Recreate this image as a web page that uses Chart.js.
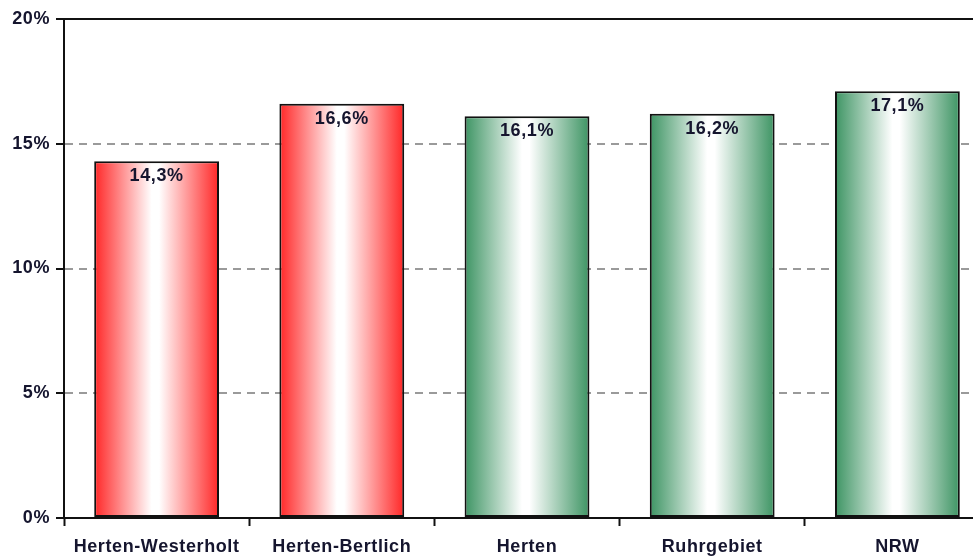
<!DOCTYPE html>
<html><head><meta charset="utf-8">
<script src="https://cdn.jsdelivr.net/npm/chart.js@4/dist/chart.umd.min.js"></script>
<style>
html,body{margin:0;padding:0;overflow:hidden;background:#fff;}
#wrap{width:990px;height:558px;}
</style></head>
<body><div id="wrap"><canvas id="c" width="990" height="558"></canvas></div>
<script>
const categories = ["Herten-Westerholt","Herten-Bertlich","Herten","Ruhrgebiet","NRW"];
const values = [14.3,16.6,16.1,16.2,17.1];
const valueLabels = ["14,3%","16,6%","16,1%","16,2%","17,1%"];
const barColors = ["red","red","green","green","green"];
const yTicks = [0,5,10,15,20];

const edge = {red:"#ff2626", green:"#3d9463"};
const BAR_PCT = 0.674;
const FONT = "'Liberation Sans', Arial, sans-serif";
const TEXT = "#15152e";

function barFill(ctx){
  const chart = ctx.chart;
  const x = chart.scales.x;
  if(!x || !chart.chartArea) return edge[barColors[ctx.dataIndex]];
  const cx = x.getPixelForValue(ctx.dataIndex);
  const half = (x.width/categories.length)*BAR_PCT/2;
  const g = chart.ctx.createLinearGradient(cx-half,0,cx+half,0);
  const e = edge[barColors[ctx.dataIndex]];
  g.addColorStop(0,e);
  g.addColorStop(0.46,"#ffffff");
  g.addColorStop(0.52,"#ffffff");
  g.addColorStop(1,e);
  return g;
}

const spacingPlugin = {
  id:"spacing",
  beforeInit(chart){ chart.ctx.letterSpacing = "0.6px"; },
  beforeUpdate(chart){ chart.ctx.letterSpacing = "0.6px"; },
  beforeDraw(chart){ chart.ctx.letterSpacing = "0.6px"; }
};

const labelPlugin = {
  id:"vals",
  afterDatasetsDraw(chart){
    const c = chart.ctx;
    const meta = chart.getDatasetMeta(0);
    c.save();
    c.letterSpacing = "0.6px";
    c.font = "bold 18px " + FONT;
    c.fillStyle = TEXT;
    c.textAlign = "center";
    c.textBaseline = "middle";
    meta.data.forEach((b,i)=>{
      c.fillText(valueLabels[i], b.x, b.y+15);
    });
    c.restore();
  },
  afterDraw(chart){
    const c = chart.ctx, a = chart.chartArea;
    const y = chart.scales.y.getPixelForValue(yTicks[yTicks.length-1]);
    c.save();
    c.strokeStyle = "#111";
    c.lineWidth = 2;
    c.beginPath();
    c.moveTo(a.left, y);
    c.lineTo(chart.width, y);
    c.stroke();
    c.restore();
  }
};

new Chart(document.getElementById("c"),{
  type:"bar",
  data:{labels:categories,datasets:[{
    data:values,
    backgroundColor:barFill,
    borderColor:"#111",
    borderWidth:2,
    borderSkipped:false,
    categoryPercentage:1,
    barPercentage:BAR_PCT
  }]},
  options:{
    responsive:false,
    animation:false,
    devicePixelRatio:1,
    layout:{padding:{top:19,right:0,left:0,bottom:0}},
    plugins:{legend:{display:false},tooltip:{enabled:false}},
    scales:{
      y:{
        min:0,max:20,
        afterBuildTicks(s){ s.ticks = yTicks.map(v=>({value:v})); },
        afterFit(s){ s.width = 64; },
        border:{display:true,color:"#111",width:2,dash:[8,6]},
        grid:{
          color:"#9a9a9a",
          lineWidth:2,
          tickColor:"#111",
          tickLength:8,
          tickWidth:2,
          tickBorderDash:[],
          drawTicks:true
        },
        ticks:{
          callback:(v)=>v+"%",
          font:{family:FONT,size:18,weight:"bold"},
          color:TEXT,
          padding:6
        }
      },
      x:{
        offset:true,
        border:{display:true,color:"#111",width:2},
        grid:{display:true,offset:true,drawOnChartArea:false,tickColor:"#111",tickLength:8,tickWidth:2},
        afterFit(s){ s.height = 40; },
        ticks:{
          font:{family:FONT,size:18,weight:"bold"},
          color:TEXT,
          padding:10,
          maxRotation:0,autoSkip:false
        }
      }
    }
  },
  plugins:[spacingPlugin,labelPlugin]
});
</script>
</body></html>
